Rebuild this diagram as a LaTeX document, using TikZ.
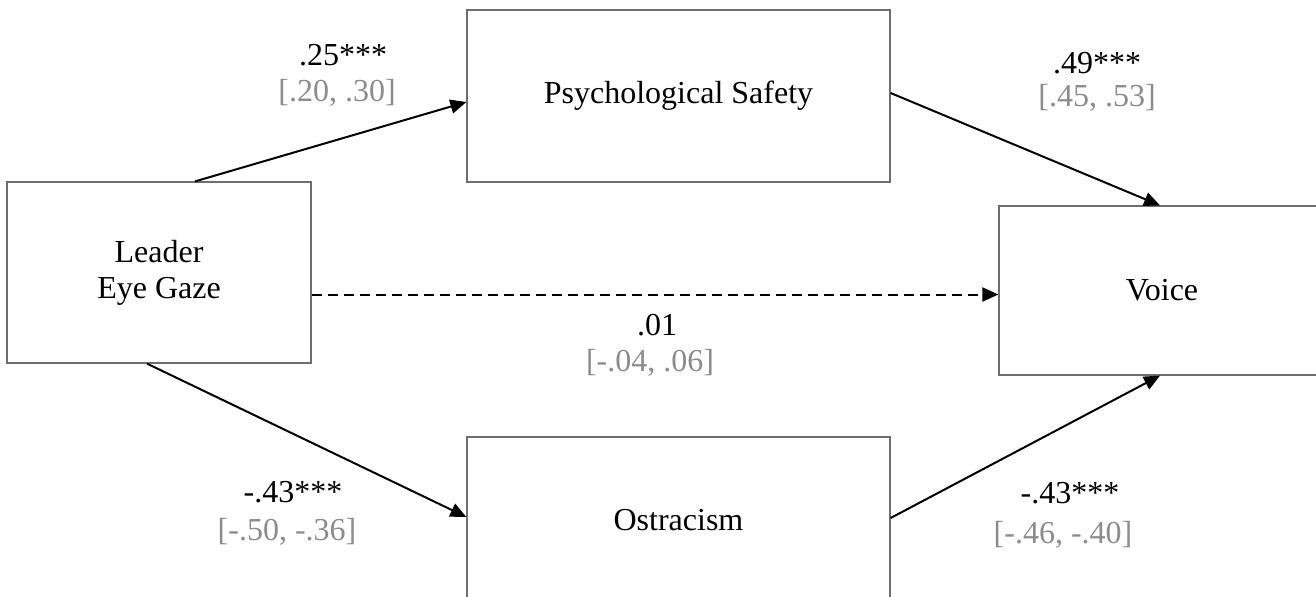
\documentclass[tikz,border=0pt]{standalone}
\usepackage{fontspec}
\setmainfont{Liberation Serif}
\usetikzlibrary{arrows.meta}

\definecolor{boxgray}{RGB}{110,110,110}
\definecolor{cigray}{RGB}{140,140,140}

\begin{document}
\begin{tikzpicture}[x=0.5pt,y=-0.5pt,
  font=\fontsize{16}{18}\selectfont,
  var/.style={draw=boxgray,line width=0.6pt,align=center,inner sep=0pt},
  path/.style={-{Triangle[length=8pt,width=7pt]},line width=1pt},
  coef/.style={inner sep=0pt},
  ci/.style={inner sep=0pt,text=cigray}]
\useasboundingbox (0,0) rectangle (1316,596);
\node[var,minimum width=152pt,minimum height=90.5pt] (lead) at (159,272.5) {Leader\\Eye Gaze};
\node[var,minimum width=211.5pt,minimum height=86pt] (psy) at (678.5,96) {Psychological Safety};
\node[var,minimum width=211.5pt,minimum height=83pt] (ost) at (678.5,520) {Ostracism};
\node[var,minimum width=163pt,minimum height=84.5pt] (voice) at (1162,290.5) {Voice};
\draw[path] ([xshift=18pt]lead.north) -- ([yshift=-3pt]psy.west);
\draw[path] ([yshift=1.5pt]psy.east) -- ([xshift=-1pt]voice.north);
\draw[path] ([xshift=-6pt]lead.south) -- ([yshift=1.5pt]ost.west);
\draw[path] ([yshift=1pt]ost.east) -- ([xshift=-1pt]voice.south);
\coordinate (dstart) at ([yshift=-11pt]lead.east);
\draw[path,dash pattern=on 5pt off 3pt] (dstart) -- (dstart -| voice.west);
\node[coef] (b1) at (343,55) {.25***};
\node[ci] (c1) at (337,93) {[.20, .30]};
\node[coef] (b2) at (1097,63) {.49***};
\node[ci] (c2) at (1097,98) {[.45, .53]};
\node[coef] (b3) at (657,325) {.01};
\node[ci] (c3) at (650,363) {[-.04, .06]};
\node[coef] (b4) at (293,492) {-.43***};
\node[ci] (c4) at (287,532) {[-.50, -.36]};
\node[coef] (b5) at (1070,493) {-.43***};
\node[ci] (c5) at (1063,535) {[-.46, -.40]};
\end{tikzpicture}
\end{document}
